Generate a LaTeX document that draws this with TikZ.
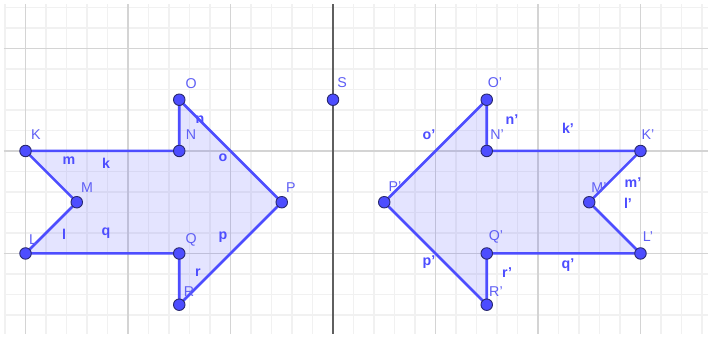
\documentclass[tikz,border=0pt]{standalone}
\usepackage{fontspec}
\setmainfont{Liberation Sans}
\definecolor{lineblue}{RGB}{77,77,255}
\definecolor{ptedge}{RGB}{40,40,110}
\definecolor{labblue}{RGB}{95,95,245}
\definecolor{minorgray}{RGB}{241,241,241}
\definecolor{majorgray}{RGB}{212,212,212}
\definecolor{axisgray}{RGB}{95,95,95}
\tikzset{
  pt/.style={circle, fill=lineblue, draw=ptedge, line width=0.5pt, inner sep=0pt, minimum size=6.4pt},
  side/.style={draw=lineblue, line width=1.4pt},
  arrowfill/.style={fill=lineblue, fill opacity=0.15},
  lab/.style={text=labblue, inner sep=0pt, font=\fontsize{7.9}{9}\selectfont},
  slab/.style={text=lineblue, inner sep=0pt, font=\fontsize{7.9}{9}\selectfont\bfseries}
}
\begin{document}
\begin{tikzpicture}[x=2cm, y=2cm]
    \useasboundingbox (-3.249,-1.824) rectangle (3.688,1.473);
    \fill[white] (-3.249,-1.824) rectangle (3.688,1.473);

    % grid and mirror line
    \draw[minorgray, line width=0.6pt, step=0.2] (-3.21,-1.785) grid (3.66,1.434);
    \draw[majorgray, line width=0.8pt, step=1] (-3.21,-1.785) grid (3.66,1.434);
    \draw[axisgray, line width=1.3pt] (0,-1.785) -- (0,1.434);

    % original arrow
    \coordinate (K) at (-3,0);
    \coordinate (N) at (-1.5,0);
    \coordinate (O) at (-1.5,0.5);
    \coordinate (P) at (-0.5,-0.5);
    \coordinate (R) at (-1.5,-1.5);
    \coordinate (Q) at (-1.5,-1);
    \coordinate (L) at (-3,-1);
    \coordinate (M) at (-2.5,-0.5);
    \coordinate (S) at (0,0.5);

    % image arrow
    \coordinate (K') at (3,0);
    \coordinate (N') at (1.5,0);
    \coordinate (O') at (1.5,0.5);
    \coordinate (P') at (0.5,-0.5);
    \coordinate (R') at (1.5,-1.5);
    \coordinate (Q') at (1.5,-1);
    \coordinate (L') at (3,-1);
    \coordinate (M') at (2.5,-0.5);

    \fill[arrowfill] (K) -- (N) -- (O) -- (P) -- (R) -- (Q) -- (L) -- (M) -- cycle;
    \fill[arrowfill] (K') -- (N') -- (O') -- (P') -- (R') -- (Q') -- (L') -- (M') -- cycle;

    \draw[side] (K) -- (N) -- (O) -- (P) -- (R) -- (Q) -- (L) -- (M) -- cycle;
    \draw[side] (K') -- (N') -- (O') -- (P') -- (R') -- (Q') -- (L') -- (M') -- cycle;

    \foreach \v in {K,N,O,P,R,Q,L,M,S,K',N',O',P',R',Q',L',M'}
        \node[pt] (dot\v) at (\v) {};

    % vertex labels
    \draw (-1.385,0.654) node[lab] (labO) {O};
    \draw (-1.385,0.156) node[lab] (labN) {N};
    \draw (-2.898,0.156) node[lab] (labK) {K};
    \draw (-2.4,-0.361) node[lab] (labM) {M};
    \draw (-0.41,-0.361) node[lab] (labP) {P};
    \draw (-2.927,-0.868) node[lab] (labL) {L};
    \draw (-1.385,-0.868) node[lab] (labQ) {Q};
    \draw (-1.405,-1.376) node[lab] (labR) {R};
    \draw (0.088,0.663) node[lab] (labS) {S};

    \draw (1.58,0.663) node[lab] (labO') {O'};
    \draw (1.6,0.156) node[lab] (labN') {N'};
    \draw (3.073,0.156) node[lab] (labK') {K'};
    \draw (0.605,-0.351) node[lab] (labP') {P'};
    \draw (2.595,-0.361) node[lab] (labM') {M'};
    \draw (3.073,-0.839) node[lab] (labL') {L'};
    \draw (1.59,-0.839) node[lab] (labQ') {Q'};
    \draw (1.59,-1.376) node[lab] (labR') {R'};

    % side labels
    \draw (-2.576,-0.098) node[slab] (labm) {m};
    \draw (-2.215,-0.117) node[slab] (labk) {k};
    \draw (-1.073,-0.068) node[slab] (labo) {o};
    \draw (-1.298,0.302) node[slab] (labn) {n};
    \draw (-2.624,-0.81) node[slab] (labl) {l};
    \draw (-2.215,-0.8) node[slab] (labq) {q};
    \draw (-1.073,-0.839) node[slab] (labp) {p};
    \draw (-1.317,-1.19) node[slab] (labr) {r};

    \draw (1.746,0.302) node[slab] (labn') {n'};
    \draw (2.293,0.224) node[slab] (labk') {k'};
    \draw (0.937,0.156) node[slab] (labo') {o'};
    \draw (2.927,-0.312) node[slab] (labm') {m'};
    \draw (2.878,-0.507) node[slab] (labl') {l'};
    \draw (0.937,-1.083) node[slab] (labp') {p'};
    \draw (2.293,-1.112) node[slab] (labq') {q'};
    \draw (1.698,-1.19) node[slab] (labr') {r'};
\end{tikzpicture}
\end{document}
